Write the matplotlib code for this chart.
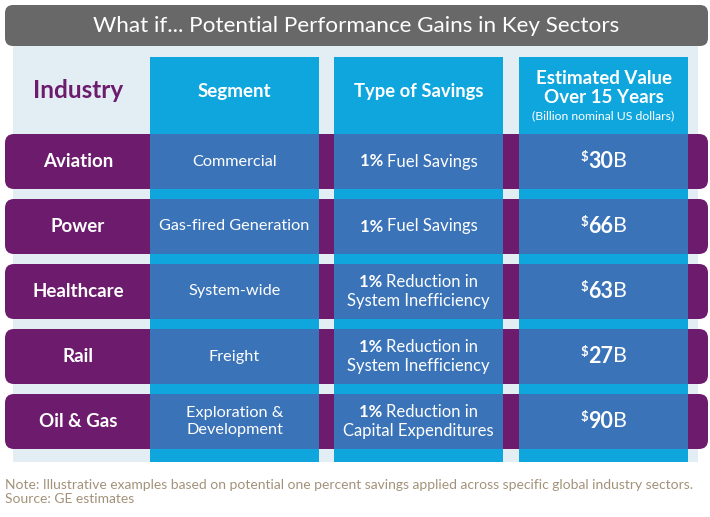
import matplotlib
matplotlib.use("Agg")
import matplotlib.pyplot as plt
from matplotlib.patches import FancyBboxPatch, Rectangle
from matplotlib.offsetbox import TextArea, HPacker, VPacker, AnnotationBbox

plt.rcParams["font.family"] = ["Lato", "DejaVu Sans"]

# table content
title = "What if... Potential Performance Gains in Key Sectors"
headers = ["Industry", "Segment", "Type of Savings", "Estimated Value\nOver 15 Years"]
header_note = "(Billion nominal US dollars)"
industries = ["Aviation", "Power", "Healthcare", "Rail", "Oil & Gas"]
segments = ["Commercial", "Gas-fired Generation", "System-wide", "Freight",
            "Exploration &\nDevelopment"]
savings_pct = ["1%", "1%", "1%", "1%", "1%"]
savings_text = ["Fuel Savings", "Fuel Savings", "Reduction in\nSystem Inefficiency",
                "Reduction in\nSystem Inefficiency", "Reduction in\nCapital Expenditures"]
values_bn = [30, 66, 63, 27, 90]
footnote = ("Note: Illustrative examples based on potential one percent savings applied "
            "across specific global industry sectors.\nSource: GE estimates")

# colours
GRAY = "#686868"
PANEL = "#e3eef4"
CYAN = "#0fa6de"
BLUE = "#3a73b8"
PURPLE = "#6d1b6d"
NOTE = "#a3927a"

fig = plt.figure(figsize=(7.10, 5.17), dpi=100)
ax = fig.add_axes([0, 0, 1, 1])
ax.set_xlim(0, 710)
ax.set_ylim(517, 0)
ax.axis("off")

# title bar
ax.add_patch(FancyBboxPatch((5, 5), 703, 41, boxstyle="round,pad=0,rounding_size=8",
                            fc=GRAY, ec="none"))
ax.text(356, 26, title, color="white", fontsize=16.2, fontweight="normal",
        ha="center", va="center")

# light background panel
ax.add_patch(Rectangle((13, 46), 685, 416, fc=PANEL, ec="none"))

# column geometry
col_left = [150, 334, 519]
col_w = 169
col_centers = [78] + [c + col_w / 2 for c in col_left]
row_top0 = 134
row_h = 55
row_pitch = 65

for c in col_left:
    ax.add_patch(Rectangle((c, 57), col_w, 462 - 57, fc=CYAN, ec="none"))

# header texts
ax.text(col_centers[0], 91, headers[0], color=PURPLE, fontsize=17.5, fontweight="bold",
        ha="center", va="center")
ax.text(col_centers[1], 91, headers[1], color="white", fontsize=13.5, fontweight="bold",
        ha="center", va="center")
ax.text(col_centers[2], 91, headers[2], color="white", fontsize=13.2, fontweight="bold",
        ha="center", va="center")
ax.text(col_centers[3], 88, headers[3], color="white", fontsize=13.5, fontweight="bold",
        ha="center", va="center", linespacing=1.1)
ax.text(col_centers[3], 116, header_note, color="white", fontsize=8.8,
        ha="center", va="center")


def packed(parts, xy, align="baseline"):
    boxes = [TextArea(t, textprops=p) for t, p in parts]
    pack = HPacker(children=boxes, pad=0, sep=0, align=align)
    ab = AnnotationBbox(pack, xy, frameon=False, box_alignment=(0.5, 0.5), pad=0)
    ax.add_artist(ab)


for i, name in enumerate(industries):
    y0 = row_top0 + i * row_pitch
    yc = y0 + row_h / 2
    ax.add_patch(FancyBboxPatch((5, y0), 703, row_h,
                                boxstyle="round,pad=0,rounding_size=9",
                                fc=PURPLE, ec="none"))
    for c in col_left:
        ax.add_patch(Rectangle((c, y0), col_w, row_h, fc=BLUE, ec="none"))

    ax.text(col_centers[0], yc, name, color="white", fontsize=13.5, fontweight="bold",
            ha="center", va="center")
    ax.text(col_centers[1], yc, segments[i], color="white", fontsize=11.7,
            ha="center", va="center", linespacing=1.25)

    # type of savings: bold "1%" + regular text
    bold = dict(color="white", fontsize=12, fontweight="bold")
    reg = dict(color="white", fontsize=12)
    lines = savings_text[i].split("\n")
    first = HPacker(children=[TextArea(savings_pct[i] + " ", textprops=bold),
                              TextArea(lines[0], textprops=reg)],
                    pad=0, sep=0, align="baseline")
    rows = [first] + [TextArea(l, textprops=reg) for l in lines[1:]]
    vp = VPacker(children=rows, pad=0, sep=1.5, align="center")
    ax.add_artist(AnnotationBbox(vp, (col_centers[2], yc), frameon=False,
                                 box_alignment=(0.5, 0.5), pad=0))

    # value: superscript $, bold number, regular B
    packed([("$", dict(color="white", fontsize=9.5, fontweight="bold")),
            (str(values_bn[i]), dict(color="white", fontsize=15.5, fontweight="bold")),
            ("B", dict(color="white", fontsize=15.5, fontweight="normal"))],
           (col_centers[3], yc), align="top")

ax.text(5, 492, footnote, color=NOTE, fontsize=10, ha="left", va="center",
        linespacing=1.15)

fig.savefig("out.png", dpi=100)
